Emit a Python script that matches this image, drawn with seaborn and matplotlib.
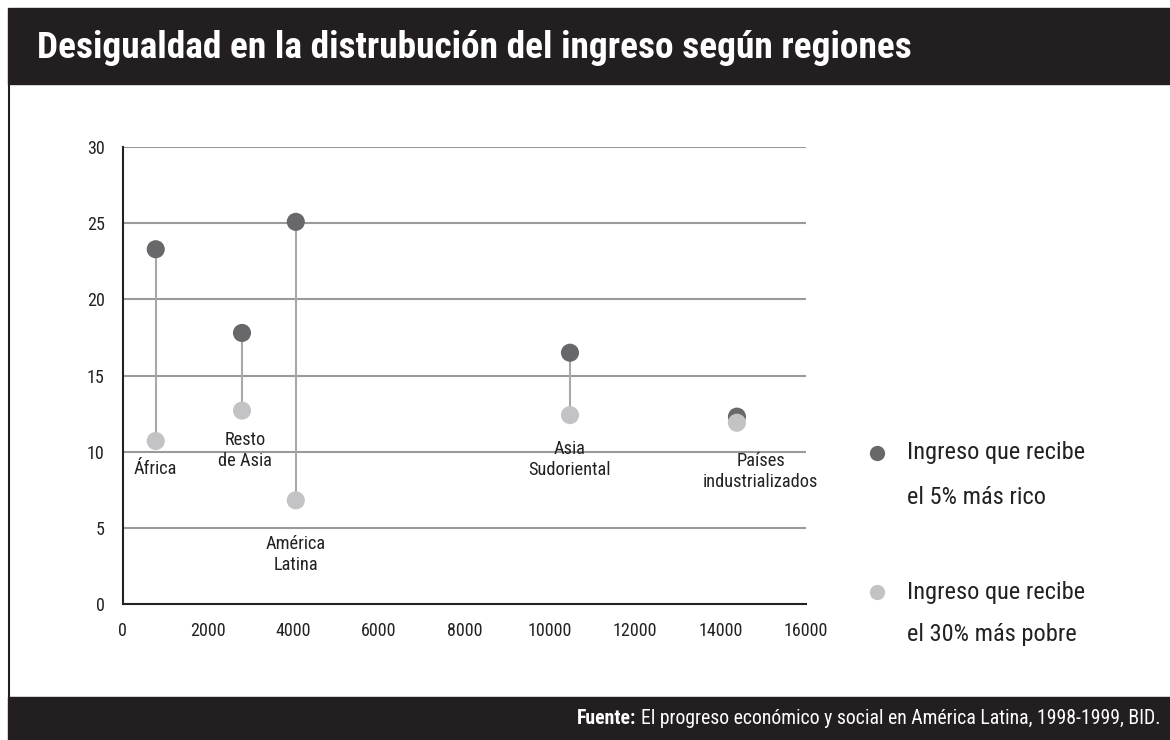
import seaborn as sns
import pandas as pd
import matplotlib.pyplot as plt
from matplotlib import font_manager
from matplotlib.patches import Rectangle
from matplotlib.lines import Line2D

# data
regions = ['África', 'Resto\nde Asia', 'América\nLatina', 'Asia\nSudoriental', 'Países\nindustrializados']
income = [770, 2790, 4050, 10470, 14380]
rich_5 = [23.3, 17.8, 25.1, 16.5, 12.3]
poor_30 = [10.7, 12.7, 6.8, 12.4, 11.9]
series = ['Ingreso que recibe\nel 5% más rico', 'Ingreso que recibe\nel 30% más pobre']
colors = ['#68686b', '#c3c3c5']

sns.set_style('white')
# look for a narrow face, the original uses a condensed grotesque
fam = 'DejaVu Sans'
for f in font_manager.fontManager.ttflist:
    if f.name in ('Liberation Sans Narrow', 'Roboto Condensed', 'Open Sans Condensed',
                  'DejaVu Sans Condensed', 'Arial Narrow'):
        fam = f.name
        break
plt.rcParams['font.family'] = [fam, 'DejaVu Sans']
plt.rcParams['font.stretch'] = 'condensed'

d = pd.DataFrame({
    'x': income + income,
    'y': rich_5 + poor_30,
    'serie': [series[0]] * len(income) + [series[1]] * len(income),
})

fig = plt.figure(figsize=(11.7, 7.4), dpi=100)
ax = fig.add_axes([0.105, 0.184, 0.584, 0.617])
fig.canvas.draw()
renderer = fig.canvas.get_renderer()


def fit_size(s, target_px, weight='normal'):
    t = fig.text(0, 0, s, fontsize=20, fontweight=weight)
    w = t.get_window_extent(renderer).width
    t.remove()
    return 20 * target_px / w


ax.vlines(income, poor_30, rich_5, color='#a8a8aa', lw=1.5, zorder=1)
sns.scatterplot(data=d, x='x', y='y', hue='serie', palette=colors, s=170,
                edgecolor='none', ax=ax, zorder=3, legend=False)

ax.set_xlim(0, 16000)
ax.set_ylim(0, 30)
ax.set_xticks(range(0, 16001, 2000))
ax.set_yticks(range(0, 31, 5))
ax.set_xlabel('')
ax.set_ylabel('')
for v in range(5, 31, 5):
    ax.axhline(v, color='#9a9a9c', lw=1.5, zorder=0)
for s in ['top', 'right']:
    ax.spines[s].set_visible(False)
for s in ['left', 'bottom']:
    ax.spines[s].set_color('#222222')
    ax.spines[s].set_linewidth(1.5)
ax.tick_params(axis='both', direction='out', length=8, width=1.3, color='#222222',
               labelsize=13, labelcolor='#222222', pad=5)
ax.spines['bottom'].set_zorder(4)

# region labels under the poorer point
lab_fs = min(15, fit_size('industrializados', 115))
offsets = [(0, -14), (2, -15), (0, -25), (0, -18), (17, -21)]
for name, x, y, off in zip(regions, income, poor_30, offsets):
    ax.annotate(name, (x, y), xytext=off, textcoords='offset points',
                ha='center', va='top', fontsize=lab_fs, color='#222222', linespacing=1.2)

# legend on the right
leg_fs = fit_size('Ingreso que recibe', 178)
rows = [1 - 453 / 740, 1 - 497 / 740, 1 - 592 / 740, 1 - 635 / 740]
lines = [l for s in series for l in s.split('\n')]
for c, yy in zip(colors, [rows[0], rows[2]]):
    fig.add_artist(Line2D([0.7495], [yy], transform=fig.transFigure, marker='o', ls='',
                          markersize=11, color=c, markeredgewidth=0))
for l, yy in zip(lines, rows):
    fig.text(0.775, yy, l, fontsize=leg_fs, color='#222222', va='center', ha='left')

# header and footer bands
fig.patches.append(Rectangle((0.0068, 0.8865), 0.9932, 0.1025, transform=fig.transFigure,
                             color='#231f20', zorder=0))
fig.patches.append(Rectangle((0.0068, 0), 0.9932, 0.0581, transform=fig.transFigure,
                             color='#231f20', zorder=0))
fig.add_artist(Line2D([0.0073, 0.0073], [0.0581, 0.8865], transform=fig.transFigure,
                      color='#231f20', lw=1.5))

title = 'Desigualdad en la distrubución del ingreso según regiones'
fig.text(0.032, 0.935, title, color='white', fontsize=fit_size(title, 874, 'bold'),
         fontweight='bold', va='center', ha='left')

source = 'El progreso económico y social en América Latina, 1998-1999, BID.'
src_fs = min(15, fit_size('Fuente: ' + source, 583))
src = fig.text(0.9915, 0.029, source, color='white', fontsize=src_fs, va='center', ha='right')
fig.canvas.draw()
bb = src.get_window_extent().transformed(fig.transFigure.inverted())
fig.text(bb.x0 - 0.004, 0.029, 'Fuente:', color='white', fontsize=src_fs,
         fontweight='bold', va='center', ha='right')

fig.savefig('out.png', dpi=100)
